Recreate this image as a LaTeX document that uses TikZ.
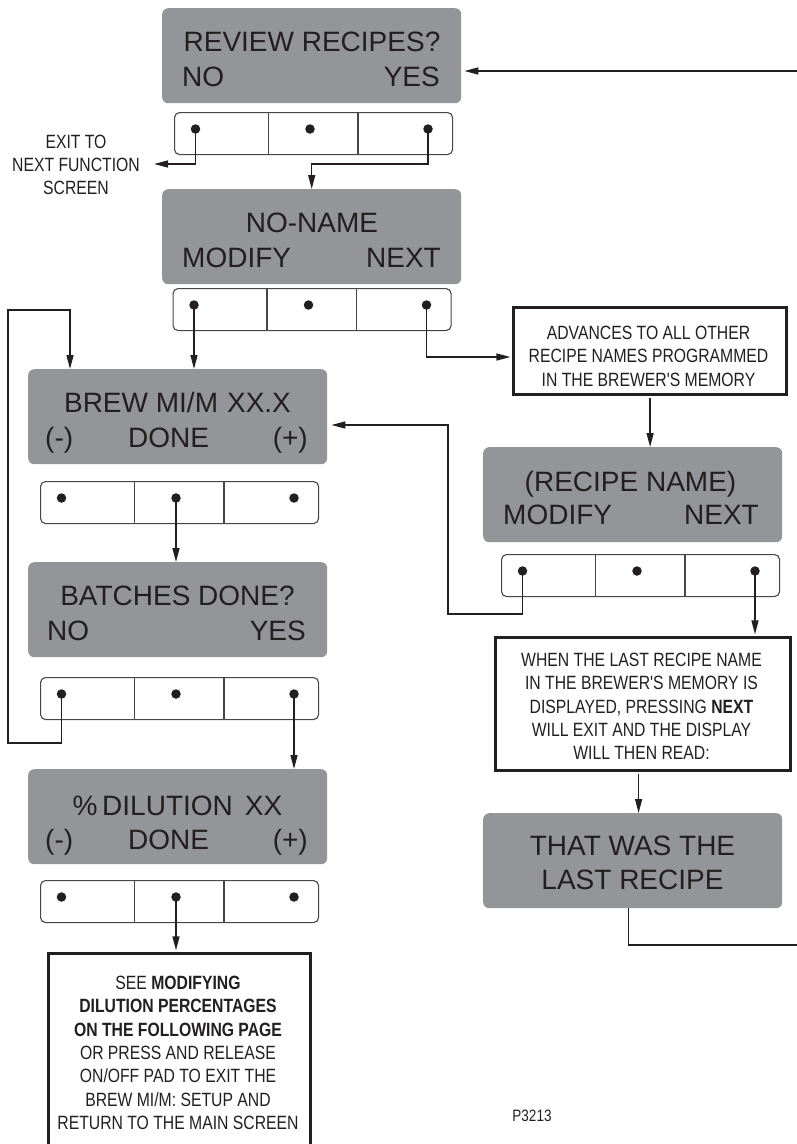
\documentclass[tikz,border=0pt]{standalone}
\usepackage{fontspec}
\setmainfont{Liberation Sans}
\newfontfamily\condf[FakeStretch=0.82]{Liberation Sans}
\usetikzlibrary{arrows.meta,calc}
\definecolor{scr}{RGB}{147,149,152}
\definecolor{ink}{RGB}{35,31,32}
\definecolor{padline}{RGB}{70,70,70}
\tikzset{
 screen/.style={fill=scr, rounded corners=6pt, draw=none, inner sep=0, minimum width=299pt, minimum height=95pt, anchor=north west},
 stxt/.style={font=\fontsize{28}{34}\selectfont, text=ink, inner sep=0},
 pad/.style={draw=padline, line width=1.1pt, fill=white, rounded corners=5pt, inner sep=0, minimum width=278pt, minimum height=42pt, anchor=north west},
 dot/.style={circle, fill=ink, inner sep=0, minimum size=9.5pt},
 note/.style={draw=ink, line width=3.2pt, fill=white, inner sep=0, anchor=north west},
 ntxt/.style={font=\condf\fontsize{19.2}{23.3}\selectfont, text=ink, align=center, inner sep=0, anchor=north},
 conn/.style={draw=ink, line width=1.4pt},
 arr/.style={conn, -{Triangle[length=14pt,width=7pt]}},
}
\newcommand\padrow[3]{%
 \node[pad] (#1) at (#2,#3) {};
 \draw[padline, line width=1.1pt] (#2+94.5,#3) -- (#2+94.5,#3+42);
 \draw[padline, line width=1.1pt] (#2+184,#3) -- (#2+184,#3+42);
 \node[dot] (#1a) at (#2+21.5,#3+17) {};
 \node[dot] (#1b) at (#2+136,#3+17) {};
 \node[dot] (#1c) at (#2+254,#3+17) {};
}
\begin{document}
\begin{tikzpicture}[x=1pt,y=-1pt]
\useasboundingbox (0,0) rectangle (797,1144);
\clip (0,0) rectangle (797,1144);
% screens
\node[screen] (s1) at (162,8) {};
\node[screen] (s2) at (162,189) {};
\node[screen] (s3) at (28,369) {};
\node[screen] (s4) at (28,562) {};
\node[screen] (s5) at (28,769) {};
\node[screen] (s6) at (483,447) {};
\node[screen] (s7) at (483,813) {};
% screen texts
\node[stxt, anchor=base] (t1a) at (312,51) {REVIEW RECIPES?};
\node[stxt, anchor=base west] (t1b) at (182,86) {NO};
\node[stxt, anchor=base east] (t1c) at (440,86) {YES};
\node[stxt, anchor=base] (t2a) at (312,232) {NO-NAME};
\node[stxt, anchor=base west] (t2b) at (182,267) {MODIFY};
\node[stxt, anchor=base east] (t2c) at (441,267) {NEXT};
\node[stxt, anchor=base] (t3a) at (177.5,412) {BREW MI/M\hspace{9pt}XX.X};
\node[stxt, anchor=base west] (t3b) at (45,447) {(-)};
\node[stxt, anchor=base] (t3c) at (168.5,447) {DONE};
\node[stxt, anchor=base east] (t3d) at (308,447) {(+)};
\node[stxt, anchor=base] (t4a) at (177.5,605) {BATCHES DONE?};
\node[stxt, anchor=base west] (t4b) at (47,640) {NO};
\node[stxt, anchor=base east] (t4c) at (306,640) {YES};
\node[stxt, anchor=base] (t5a) at (177.5,815) {\%\,DILUTION\hspace{12pt}XX};
\node[stxt, anchor=base west] (t5b) at (45,849) {(-)};
\node[stxt, anchor=base] (t5c) at (168.5,849) {DONE};
\node[stxt, anchor=base east] (t5d) at (308,849) {(+)};
\node[stxt, anchor=base] (t6a) at (630.5,491) {(RECIPE NAME)};
\node[stxt, anchor=base west] (t6b) at (503,524) {MODIFY};
\node[stxt, anchor=base east] (t6c) at (759,524) {NEXT};
\node[stxt, align=center, anchor=north] (t7) at (632.5,836) {THAT WAS THE\\LAST RECIPE};
% pads
\padrow{b1}{174}{112}
\padrow{b2}{172.5}{288}
\padrow{b3}{40}{481}
\padrow{b4}{40}{677}
\padrow{b5}{40}{880}
\padrow{b6}{501}{554}
% notes
\node[note, minimum width=273pt, minimum height=87pt] (adv) at (512,306) {};
\node[ntxt] (advt) at (648.5,326) {ADVANCES TO ALL OTHER\\RECIPE NAMES PROGRAMMED\\IN THE BREWER'S MEMORY};
\node[note, minimum width=295pt, minimum height=133pt] (when) at (494,636) {};
\node[ntxt] (whent) at (641.5,653) {WHEN THE LAST RECIPE NAME\\IN THE BREWER'S MEMORY IS\\DISPLAYED, PRESSING \textbf{NEXT}\\WILL EXIT AND THE DISPLAY\\WILL THEN READ:};
\node[note, minimum width=262pt, minimum height=220pt] (see) at (47,952) {};
\node[ntxt] (seet) at (178,976) {SEE \textbf{MODIFYING}\\\textbf{DILUTION PERCENTAGES}\\\textbf{ON THE FOLLOWING PAGE}\\OR PRESS AND RELEASE\\ON/OFF PAD TO EXIT THE\\BREW MI/M: SETUP AND\\RETURN TO THE MAIN SCREEN};
\node[ntxt] (exitt) at (76,134.5) {EXIT TO\\NEXT FUNCTION\\SCREEN};
\node[font=\condf\fontsize{16.5}{18}\selectfont, text=ink, inner sep=0] (code) at (532,1116) {P3213};
% free coordinates
\coordinate (exit) at (154,164);
\coordinate (rin) at (797,71);
\coordinate (advin) at (512,357);
\coordinate (lbot) at (8,743);
\coordinate (ltop) at (8,310);
\coordinate (s3in) at (70,369);
\coordinate (m1) at (448,614);
\coordinate (bret) at (327,425);
\coordinate (rout) at (797,945);
\coordinate (wout) at ($(when.south)+(-4.5,0)$);
\coordinate (s7out) at ($(s7.south)+(-4.5,0)$);
% connectors
\draw[arr] (b1a.center) |- (exit);
\draw[arr] (b1c.center) -- ++(0,35) -| (s2.north);
\draw[arr, shorten >=3pt] (rin) -- (s1.east |- rin);
\draw[arr] (b2a.center) -- (b2a.center |- s3.north);
\draw[arr, shorten >=1.6pt] (b2c.center) |- (adv.west |- advin);
\draw[arr] (b4a.center) |- (lbot) -- (ltop) -| (s3in);
\draw[arr] (b3b.center) -- (b3b.center |- s4.north);
\draw[arr] (b4c.center) -- (b4c.center |- s5.north);
\draw[arr, shorten >=1.6pt] (b5b.center) -- (b5b.center |- see.north);
\draw[arr, shorten <=1.6pt] (adv.south) -- (adv.south |- s6.north);
\draw[arr, shorten >=4pt] (b6a.center) |- (m1) |- (s3.east |- bret);
\draw[arr, shorten >=1.6pt] (b6c.center) -- (b6c.center |- when.north);
\draw[arr, shorten <=1.6pt] (wout) -- (wout |- s7.north);
\draw[conn] (s7out) |- (rout);
\end{tikzpicture}
\end{document}
